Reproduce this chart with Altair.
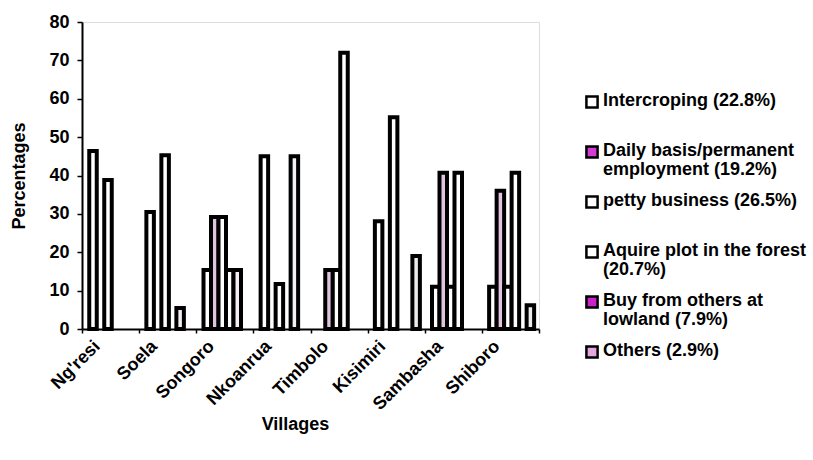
import altair as alt
import pandas as pd

villages = ["Ng'resi", "Soela", "Songoro", "Nkoanrua", "Timbolo", "Kisimiri", "Sambasha", "Shiboro"]
series = ["Intercroping", "Daily basis/permanent employment", "petty business",
          "Aquire plot in the forest", "Buy from others at lowland", "Others"]
legend_labels = ["Intercroping (22.8%)", "Daily basis/permanent\nemployment (19.2%)",
                 "petty business (26.5%)", "Aquire plot in the forest\n(20.7%)",
                 "Buy from others at\nlowland (7.9%)", "Others (2.9%)"]

intercroping = [46.4, 30.5, 15.4, 45.0, 0.0, 28.1, 11.0, 11.0]
daily_basis = [0.0, 0.0, 29.2, 0.0, 15.4, 0.0, 40.7, 36.0]
petty_business = [38.8, 45.3, 29.2, 11.7, 15.4, 55.2, 11.0, 11.0]
aquire_plot = [0.0, 0.0, 15.4, 0.0, 72.0, 0.0, 40.7, 40.7]
buy_lowland = [0.0, 5.5, 15.4, 45.0, 0.0, 0.0, 0.0, 0.0]
others = [0.0, 0.0, 0.0, 0.0, 0.0, 19.0, 0.0, 6.2]

bar_colors = ["#ffffff", "#e2c4e0", "#ffffff", "#ffffff", "#f6eef5", "#ececec"]
legend_colors = ["#ffffff", "#d23cd2", "#ffffff", "#ffffff", "#c822c8", "#e6a6e0"]

all_values = [intercroping, daily_basis, petty_business, aquire_plot, buy_lowland, others]
rows = []
for v_i, v in enumerate(villages):
    for s_i, s in enumerate(series):
        rows.append({"village": v, "series": s, "order": s_i, "value": all_values[s_i][v_i]})
df = pd.DataFrame(rows).sort_values(["order"], kind="stable")

FONT = "Liberation Sans"
FS = 18

bars = alt.Chart(df).transform_filter("datum.value > 0").mark_bar(
    stroke="black", strokeWidth=4
).encode(
    x=alt.X("village:N", sort=villages,
            scale=alt.Scale(paddingInner=0, paddingOuter=0),
            axis=alt.Axis(title="Villages", labelAngle=-45, tickBand="extent",
                          labelFont=FONT, labelFontWeight="bold", labelFontSize=FS,
                          labelColor="black", labelPadding=4, labelOffset=-20,
                          titleFont=FONT, titleFontWeight="bold", titleFontSize=FS,
                          titleColor="black", titleX=213, titleY=86,
                          domainColor="black", domainWidth=2, tickColor="black",
                          tickSize=4, tickWidth=1.5)),
    xOffset=alt.XOffset("series:N", sort=series,
                        scale=alt.Scale(paddingInner=0, paddingOuter=0.8083, align=0.598)),
    y=alt.Y("value:Q", scale=alt.Scale(domain=[0, 80]),
            axis=alt.Axis(title="Percentages", values=[0, 10, 20, 30, 40, 50, 60, 70, 80],
                          grid=False, labelFont=FONT, labelFontWeight="bold", labelFontSize=FS,
                          labelColor="black", labelPadding=8,
                          titleFont=FONT, titleFontWeight="bold", titleFontSize=FS,
                          titleColor="black", titlePadding=20,
                          domainColor="black", domainWidth=2, tickColor="black",
                          tickSize=5, tickWidth=1.5)),
    color=alt.Color("series:N", sort=series,
                    scale=alt.Scale(domain=series, range=bar_colors), legend=None),
    order=alt.Order("order:Q"),
).properties(width=457, height=307)

leg_df = pd.DataFrame({"series": series, "label": legend_labels})

leg_base = alt.Chart(leg_df).encode(
    y=alt.Y("series:N", sort=series,
            scale=alt.Scale(type="point", range=[80, 330], padding=0), axis=None)
)
leg_sq = leg_base.mark_square(size=125, filled=True, stroke="black", strokeWidth=2.5, opacity=1).encode(
    x=alt.value(3),
    color=alt.Color("series:N", sort=series,
                    scale=alt.Scale(domain=series, range=legend_colors), legend=None),
)
leg_tx = leg_base.mark_text(align="left", baseline="top", dy=-10, lineBreak="\n", lineHeight=19,
                            font=FONT, fontWeight="bold", fontSize=FS, color="black").encode(
    x=alt.value(14), text="label:N"
)
legend = alt.layer(leg_sq, leg_tx).properties(
    width=220, height=307, view=alt.ViewConfig(stroke="transparent", strokeWidth=0)
)

chart = alt.hconcat(bars, legend, spacing=40).resolve_scale(color="independent").properties(
    padding={"left": 10, "top": 12, "right": 0, "bottom": 0}
).configure_view(stroke="transparent", strokeWidth=0).configure(background="white")

chart.save("out.html", embed_options={"renderer": "svg", "actions": False})
